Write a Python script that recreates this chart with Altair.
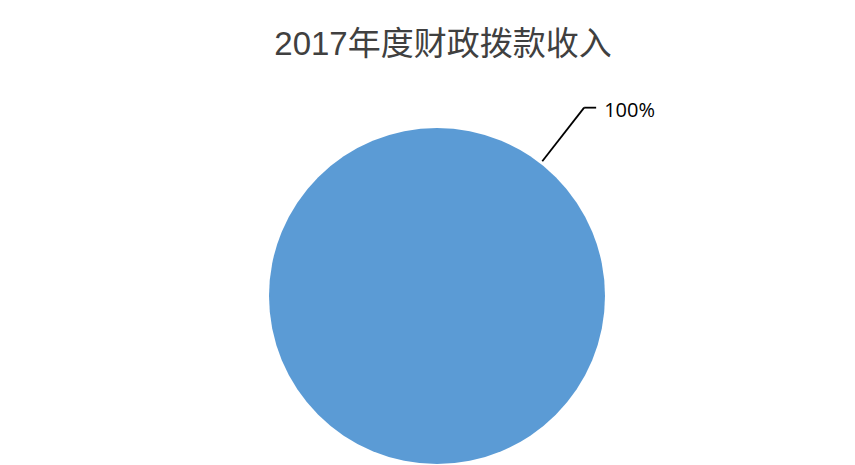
import math
import altair as alt
import pandas as pd

# ---- data ----
categories = ["财政拨款收入"]
values = [100.0]
label_texts = ["100%"]
title_text = "2017年度财政拨款收入"

df = pd.DataFrame({"category": categories, "value": values})

# ---- layout (view-relative) ----
W, H = 800, 338
R = 168
cx, cy = W / 2, H / 2
ang = math.radians(38)
r1, r2 = 171, 239
x1, y1 = cx + r1 * math.sin(ang), cy - r1 * math.cos(ang)
x2, y2 = cx + r2 * math.sin(ang), cy - r2 * math.cos(ang)
x3 = x2 + 12

pie = alt.Chart(df).mark_arc(outerRadius=R, color="#5B9BD5").encode(
    theta=alt.Theta("value:Q", stack=True),
    tooltip=["category:N", "value:Q"],
)

lbl_df = pd.DataFrame({"label": label_texts})
leader1 = alt.Chart(lbl_df).mark_rule(color="#000000", strokeWidth=1.8).encode(
    x=alt.value(x1), y=alt.value(y1), x2=alt.value(x2), y2=alt.value(y2)
)
leader2 = alt.Chart(lbl_df).mark_rule(color="#000000", strokeWidth=1.8).encode(
    x=alt.value(x2), y=alt.value(y2), x2=alt.value(x3), y2=alt.value(y2)
)
label = alt.Chart(lbl_df).mark_text(
    align="left", baseline="middle", fontSize=20, font="Open Sans", color="#000000"
).encode(text="label:N", x=alt.value(x3 + 8), y=alt.value(y2 + 3))

chart = alt.layer(pie, leader1, leader2, label).properties(
    width=W,
    height=H,
    padding={"left": 29, "top": 119, "right": 10, "bottom": 0},
    autosize=alt.AutoSizeParams(type="none"),
    background="#ffffff",
    title=alt.Title(
        title_text,
        fontSize=33,
        font="Liberation Sans, Noto Sans CJK SC",
        fontWeight="normal",
        color="#404040",
        anchor="middle",
        frame="group",
        baseline="alphabetic",
        offset=13,
        dx=6,
    ),
).configure_view(strokeWidth=0, stroke="transparent")

chart.save("out.html", embed_options={"renderer": "svg", "actions": False})
